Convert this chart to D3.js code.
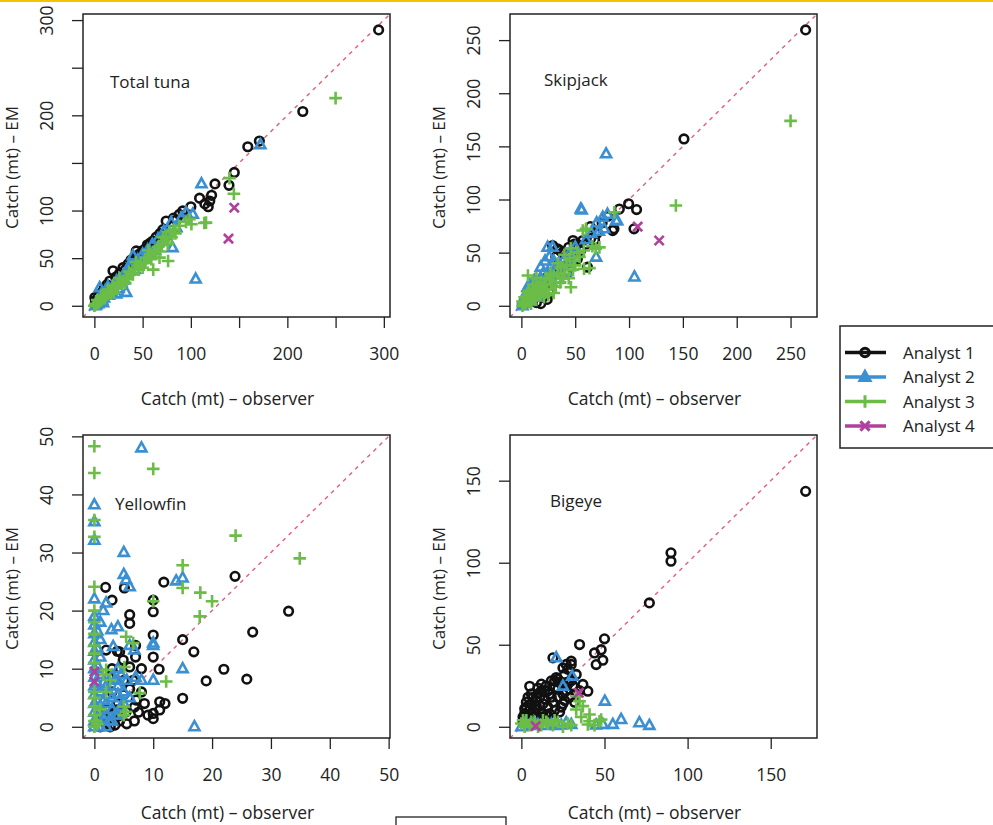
<!DOCTYPE html>
<html lang="en">
<head>
<meta charset="UTF-8">
<title>Catch EM vs observer</title>
<script src="https://d3js.org/d3.v7.min.js"></script>
<style>
  body { margin: 0; background: #fff; }
  text { font-family: "Open Sans", sans-serif; fill: #222; }
</style>
</head>
<body>
<div id="chart"></div>

<script>
// ---- data: [observer, EM] catch in mt ----

// Total tuna
const tunaA1 = [[294.6,289.7],[216,204],[159,167],[171,173],[145,140],[139.5,126.5],[125,128],[109,113],[114.5,107],[119.6,110],
  [121.5,116],[118,104],[91.6,99.6],[74.4,89],[60.6,68],[43.4,57.6],[29.6,40],[19.3,36.7],[0.5,8.7],[82,92],[68,76],[55,64],
  [50,58],[46,54],[38,48],[35,44],[32,38],[26,34],[22,30],[16,26],[13,22],[10,18],[8,14],[6,12],[4,9],[2,6],[1,3],[3,4],
  [12,14],[24,28],[40,46],[64,72],[88,96],[100,104],[53,60],[18,20],[28,30],[36,40],[45,51],[58,66],[71,80],[85,90]];
const tunaA2 = [[172,169],[111,128],[105,28],[102,96],[81,61],[79.6,87.3],[40,52.4],[33,14],[5.5,19],[22.7,12.4],[90,92],
  [72,78],[66,70],[60,64],[55,58],[50,54],[45,48],[38,42],[35,36],[30,32],[26,28],[20,22],[16,16],[12,12],[10,8],[8,6],
  [6,4],[4,2],[2,1],[1,0],[14,20],[25,18],[42,38],[85,82],[95,98],[18,14],[28,24],[7,12],[11,15],[15,11],[19,17],[23,26],
  [31,27],[36,42],[47,44],[52,50],[58,56],[63,58],[75,74],[3,5],[9,3]];
const tunaA3 = [[250,218],[140,134],[144.6,117.7],[114,87],[100.6,85.6],[76.4,47],[61,38],[115.7,87.3],[98.5,90.8],[67.5,50.6],
  [74.4,71.6],[0,0],[88,84],[84,76],[80,72],[78,78],[72,68],[70,64],[66,62],[62,56],[58,54],[55,50],[52,46],[48,45],[45,42],
  [42,38],[38,34],[36,36],[33,30],[30,26],[27,25],[24,22],[21,19],[18,16],[15,14],[12,11],[10,9],[8,7],[6,5],[4,3],[2,2],
  [1,1],[20,14],[32,24],[50,40],[64,58],[95,88],[3,6],[7,10],[11,8],[14,17],[17,13],[19,21],[23,18],[26,29],[29,23],
  [34,28],[40,33],[43,46],[46,38],[53,45],[56,58],[59,49],[68,57],[71,72],[76,65],[82,80]];
const tunaA4 = [[145,103],[139,70.5]];

// Skipjack
const skjA1 = [[264,259.6],[151,157],[99.6,96],[107,90.5],[104.6,72.4],[84.8,70.8],[91,91],[86,72.4],[64,74.5],[64.5,63.5],
  [29,56.7],[33.6,53.6],[48,61.4],[57,61.4],[49,58],[61.4,36.3],[18,2],[80,84],[75,78],[70,68],[55,52],[45,48],[40,42],
  [38,50],[35,36],[30,32],[25,28],[22,18],[20,24],[15,14],[12,10],[10,8],[8,5],[5,4],[3,2],[1,1],[28,22],[42,30],[52,44],
  [60,58],[68,62],[24,6],[14,3],[32,46],[36,52],[44,55],[52,58],[20,8],[26,12]];
const skjA2 = [[78.7,142.9],[56,90],[105,27],[69.4,45.7],[29,55],[75.6,83.3],[88,80],[55.2,91],[76.8,72.4],[89,80],[24.4,55],
  [18,36.3],[5.8,17.5],[27.4,30],[80,86],[70,78],[72,70],[65,68],[60,62],[50,55],[45,50],[40,44],[35,40],[32,35],[28,38],
  [24,28],[20,30],[16,22],[14,18],[12,24],[10,12],[8,14],[6,8],[4,10],[3,4],[2,2],[1,0],[35,25],[42,32],[22,14],[15,8],[9,4],
  [22,42],[26,46],[30,42],[18,26],[12,18],[8,20],[5,12],[2,6],[38,30],[44,40]];
const skjA3 = [[250,174],[143.5,94.3],[86.4,88],[57,70.8],[63.2,35.4],[72.5,55],[6.1,28.5],[60,72.4],[58,52],[69,53.6],
  [58.2,34.8],[36.7,36.3],[49,42.6],[46,17.5],[33.6,30],[66,56],[52,50],[45,45],[42,38],[40,30],[38,26],[36,22],[34,40],
  [30,28],[28,20],[26,24],[24,16],[22,20],[20,14],[18,22],[16,18],[15,10],[14,26],[12,14],[10,16],[10,8],[8,10],[7,4],
  [6,12],[5,6],[4,3],[3,8],[2,1],[1,4],[1,0],[32,18],[30,12],[27,30],[25,10],[23,26],[21,8],[19,17],[17,12],[13,6],
  [11,20],[9,2],[7,14],[5,9],[3,2],[44,26],[48,34],[54,46],[40,48],[46,54],[50,38]];
const skjA4 = [[108,74.5],[128,61.4]];

// Yellowfin
const yftA1 = [[1.9,24],[3,21.8],[6,19.3],[5.1,23.9],[11.8,24.9],[23.9,25.9],[10,21.8],[10,19.8],[10,15.8],[10,12],[11,9.9],
  [15,15],[16.9,12.9],[15,4.9],[22,9.9],[19,7.9],[25.9,8.2],[26.9,16.3],[33,19.9],[6,17.8],[2,13.2],[3.9,13],[4.9,11.5],
  [6,10.3],[4.3,10.1],[6.6,8],[7.1,4.6],[10,2.3],[10,1.4],[11.1,2.9],[11.1,4.3],[9.1,2],[6.8,3.4],[6.8,1],[5.4,2.6],
  [4.3,1],[3.2,2.2],[2,0.5],[1,0],[2.7,0],[3.8,2.9],[4.3,12.9],[7,14],[5,5.5],[3,6],[4,4],[2,3],[1.5,1.5],[8,6],[7.5,2.5],
  [5.5,0.5],[6,6.5],[7,12],[8,10],[3,10],[2.5,8.5],[5,8],[4,1.8],[3.5,0.3],[8.5,4],[12,4]];
const yftA2 = [[8,48],[0,38.2],[0,35.3],[0,32.1],[5,30],[5,26.2],[5.4,25.3],[6,24.1],[13.9,25.1],[15,25.6],[0,22],[2,21.3],
  [2.9,16.7],[4,17.2],[3.2,13.8],[6.8,13.2],[10,14.4],[10,14],[15,10],[8,8],[10,8],[17,0],[4,8],[4,5.6],[0,19],[0,17.5],
  [0,16],[0,14.5],[0,13],[0,11.5],[0,10],[0,8.5],[0,7],[0,5.5],[0,4],[0,2.5],[0,1],[0,0],[1,0],[1,3],[1,6],[1,9],[1,12],
  [1,15],[1,18],[2,0],[2,2],[2,4],[2,7],[3,1],[3,3],[3,5],[3.5,8],[4,2],[4,7],[4.5,9],[5,4],[5,6],[6,5],[1.5,20],[0.5,16.5],
  [0.5,4.5],[0.5,7.5],[0.5,10.5],[0.5,13.5],[1.5,1.5],[1.5,4.5],[1.5,7.5],[2.5,1],[2.5,5.5],[3.5,2],[4.5,3.5],[5.5,8],
  [3,8.8],[4,10],[6,14],[7,8.5]];
const yftA3 = [[0,48.3],[0,43.7],[10,44.4],[24,32.9],[34.9,29],[15,27.8],[15,23.9],[18,23.1],[17.9,19],[20,21.6],[10,21.6],
  [12.2,7.8],[0,35.6],[0,32.7],[0,24.1],[0,20],[0,18],[0,16],[0,14],[0,12.6],[0,11],[0,6],[0,5],[0,3.5],[0,2],[0,1],[0,0],
  [5.4,15.5],[6.6,14.4],[5.1,10.3],[2,9.8],[7.7,5.8],[5.4,2.6],[0.3,1],[2.7,8],[5,2],[1,3],[2,6],[0.5,0.5],[5,3.5],[1.5,9]];
const yftA4 = [[0,9.5],[0,7.8]];

// Bigeye
const betA1 = [[171,143.5],[90,106],[90,100.9],[77,75.5],[35,50.1],[50,53.6],[44,45],[48,47],[45,37.9],[49,40.6],[30,40],
  [25,35.9],[19,42],[5,24.7],[10,23.6],[40,21.7],[37,25.8],[33,31.9],[1,3],[2,8],[3,12],[4,6],[5,10],[6,14],[7,18],[8,11],
  [9,16],[10,20],[11,13],[12,22],[13,8],[14,17],[15,25],[16,12],[17,20],[18,28],[19,15],[20,24],[21,30],[22,18],[23,27],
  [24,12],[25,20],[26,32],[27,22],[28,35],[29,18],[30,28],[31,25],[32,15],[33,20],[35,22],[10,5],[15,7],[20,10],[25,14],
  [8,4],[3,2],[5,1],[12,26],[17,8],[27,38],[30,38],[22,29],[14,22],[6,20],[2,11],[3,15],[4,18],[6,8],[9,13],[11,18],
  [13,14],[16,22],[18,18],[20,28],[22,23],[24,26],[26,16],[28,26],[12,6],[7,3],[1,6],[4,4],[19,5],[23,9]];
const betA2 = [[21,42],[30.6,30.8],[25,24.7],[50.2,15.6],[60,4.4],[71,2.4],[77,0.8],[55,1.4],[49,1.4],[30,1.4],[27,2.4],
  [21,0.8],[15,0.8],[0,0],[5,0.8],[45,1],[10,1.2],[2,2],[8,2.5],[18,1.5],[24,1]];
const betA3 = [[35,15.6],[37,12.6],[41,3.4],[48,4.4],[33,18.6],[41,7.5],[40,1.4],[47,3.4],[33,10.5],[0,2],[3,4],[5,1],[8,3],
  [10,0],[13,4],[16,2],[19,1],[22,3],[25,0],[28,2],[2,0],[12,1],[30,1],[1,4],[6,3],[15,3],[20,4],[36,6],[44,1]];
const betA4 = [[8.6,0.4],[34.6,20.7]];

// tick values and which of them carry a label
const tunaTicks = [0, 50, 100, 150, 200, 250, 300], tunaLabels = [0, 50, 100, 200, 300];
const skjTicks = [0, 50, 100, 150, 200, 250], skjLabels = skjTicks;
const yftTicks = [0, 10, 20, 30, 40, 50], yftLabels = yftTicks;
const betTicks = [0, 50, 100, 150], betLabels = betTicks;

const analysts = ["Analyst 1", "Analyst 2", "Analyst 3", "Analyst 4"];
const colors = ["#111111", "#3a90d2", "#6bbd48", "#b0409c"];

// ---- layout ----
const W = 993, H = 825;
const boxW = 307, boxH = 303;

const panels = [
  { name: "Total tuna", sets: [tunaA1, tunaA2, tunaA3, tunaA4], ticks: tunaTicks, labels: tunaLabels, x0: 83, y0: 14, lx: 27, ly: 74, ty: 405 },
  { name: "Skipjack", sets: [skjA1, skjA2, skjA3, skjA4], ticks: skjTicks, labels: skjLabels, x0: 510, y0: 14, lx: 34, ly: 72, ty: 405 },
  { name: "Yellowfin", sets: [yftA1, yftA2, yftA3, yftA4], ticks: yftTicks, labels: yftLabels, x0: 83, y0: 435, lx: 32, ly: 75, ty: 819 },
  { name: "Bigeye", sets: [betA1, betA2, betA3, betA4], ticks: betTicks, labels: betLabels, x0: 510, y0: 435, lx: 40, ly: 72, ty: 819 }
];

const svg = d3.select("#chart").append("svg")
    .attr("width", W)
    .attr("height", H);

// thin yellow strip along the top edge
svg.append("rect").attr("x", 0).attr("y", 0).attr("width", W).attr("height", 2).attr("fill", "#f5c400");

// marker shapes (pch 1, 2, 3, 4)
function drawMarker(sel, k, sw) {
  const c = colors[k];
  if (k === 0) {
    sel.append("circle").attr("r", 4.3).attr("fill", "none").attr("stroke", c).attr("stroke-width", sw);
  } else if (k === 1) {
    sel.append("path").attr("d", "M0,-5.6L5,3.4L-5,3.4Z").attr("fill", "none").attr("stroke", c)
      .attr("stroke-width", sw).attr("stroke-linejoin", "miter");
  } else if (k === 2) {
    sel.append("path").attr("d", "M-6.3,0H6.3M0,-6.3V6.3").attr("stroke", c).attr("stroke-width", sw);
  } else {
    sel.append("path").attr("d", "M-4.6,-4.6L4.6,4.6M-4.6,4.6L4.6,-4.6").attr("stroke", c).attr("stroke-width", sw);
  }
}

panels.forEach(function(p, i) {
  const g = svg.append("g").attr("transform", `translate(${p.x0},${p.y0})`);

  // R style range: data range padded by 4%
  const all = p.sets.flat().flat();
  const mx = d3.max(all);
  const dom = [-0.04 * mx, 1.04 * mx];

  const x = d3.scaleLinear().domain(dom).range([0, boxW]);
  const y = d3.scaleLinear().domain(dom).range([boxH, 0]);

  const fmt = function(d) { return p.labels.includes(d) ? d : ""; };

  // x axis
  const gx = g.append("g")
      .attr("transform", `translate(0,${boxH})`)
      .call(d3.axisBottom(x).tickValues(p.ticks).tickFormat(fmt).tickSize(11).tickPadding(20));

  // y axis, labels turned like R's las = 0
  const gy = g.append("g")
      .call(d3.axisLeft(y).tickValues(p.ticks).tickFormat(fmt).tickSize(11));

  [gx, gy].forEach(function(a) {
    a.select(".domain").remove();
    a.selectAll("line").attr("stroke", "#222").attr("stroke-width", 1.3);
    a.selectAll("text").style("font-size", "17.5px").style("font-family", "'Open Sans', sans-serif").attr("fill", "#222");
  });
  gy.selectAll("text")
      .attr("x", 0).attr("dy", 0)
      .attr("text-anchor", "middle")
      .attr("transform", "translate(-30,0) rotate(-90)");

  // 1:1 line
  const clipId = "clip" + i;
  g.append("clipPath").attr("id", clipId)
    .append("rect").attr("width", boxW).attr("height", boxH);
  g.append("line")
      .attr("clip-path", `url(#${clipId})`)
      .attr("x1", x(dom[0])).attr("y1", y(dom[0]))
      .attr("x2", x(dom[1])).attr("y2", y(dom[1]))
      .attr("stroke", "#e55d7b")
      .attr("stroke-width", 1.4)
      .attr("stroke-dasharray", "4,4.5");

  // points, analyst 1 first so later ones sit on top
  p.sets.forEach(function(set, k) {
    g.append("g").selectAll("g")
      .data(set)
      .join("g")
        .attr("transform", d => `translate(${x(d[0])},${y(d[1])})`)
        .each(function() { drawMarker(d3.select(this), k, 2.6); });
  });

  // plot box
  g.append("rect")
      .attr("width", boxW).attr("height", boxH)
      .attr("fill", "none").attr("stroke", "#222").attr("stroke-width", 1.5);

  // species name
  g.append("text")
      .attr("x", p.lx).attr("y", p.ly)
      .style("font-size", "17px")
      .text(p.name);

  // axis titles
  svg.append("text")
      .attr("x", p.x0 + boxW / 2 - 9).attr("y", p.ty)
      .attr("text-anchor", "middle")
      .style("font-size", "17.5px")
      .text("Catch (mt) \u2013 observer");

  svg.append("text")
      .attr("text-anchor", "middle")
      .attr("transform", `translate(${p.x0 - 65},${p.y0 + boxH / 2 + 2}) rotate(-90)`)
      .style("font-size", "17px")
      .text("Catch (mt) \u2013 EM");
});

// legend
const leg = svg.append("g").attr("transform", "translate(840,326)");
leg.append("rect").attr("width", 170).attr("height", 122)
    .attr("fill", "#fff").attr("stroke", "#222").attr("stroke-width", 1.5);

analysts.forEach(function(a, k) {
  const row = leg.append("g").attr("transform", `translate(0,${26.5 + k * 24.5})`);
  row.append("line").attr("x1", 5).attr("x2", 46)
      .attr("stroke", colors[k]).attr("stroke-width", 3.5);
  const m = row.append("g").attr("transform", "translate(25,0)");
  drawMarker(m, k, 3);
  if (k === 1) m.select("path").attr("fill", colors[k]);
  row.append("text").attr("x", 63).attr("y", 6)
      .style("font-size", "17px")
      .text(a);
});

// edge of a box cut off at the bottom of the page
svg.append("rect").attr("x", 396).attr("y", 817).attr("width", 110).attr("height", 20)
    .attr("fill", "none").attr("stroke", "#222").attr("stroke-width", 1.3);
</script>
</body>
</html>
